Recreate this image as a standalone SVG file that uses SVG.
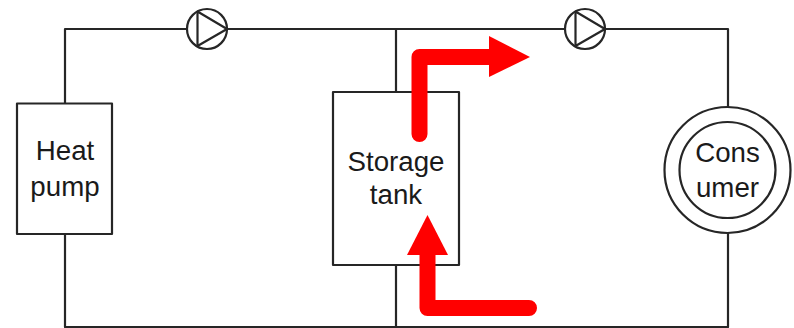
<svg xmlns="http://www.w3.org/2000/svg" width="794" height="328" viewBox="0 0 794 328">
<style>
.l{fill:none;stroke:#262626;stroke-width:2.200;stroke-linejoin:round}
.n{fill:#fff;stroke:#262626;stroke-width:2.200;stroke-linejoin:round}
.t{font-family:"Liberation Sans",Arial,sans-serif;font-size:27.700px;fill:#1a1a1a;text-anchor:middle}
.r{fill:none;stroke:#f00;stroke-width:16;stroke-linecap:round;stroke-linejoin:round}
</style>
<rect width="794" height="328" fill="#fff"/>
<g id="connectors">
<path class="l" d="M65 103.500V29H728V107M396 29V92M396 265V327M65 234V327H728V233"/>
</g>
<g id="heat-pump"><rect class="n" x="17" y="103.500" width="95" height="130.500"/><text class="t" x="65" y="160">Heat</text><text class="t" x="65" y="196">pump</text></g>
<g id="storage-tank"><rect class="n" x="333" y="92" width="126" height="173"/><text class="t" x="396" y="171">Storage</text><text class="t" x="396" y="204">tank</text></g>
<g id="consumer"><circle class="n" cx="727.500" cy="170" r="63"/><circle class="n" cx="727.500" cy="170" r="48"/><text class="t" x="727.500" y="162">Cons</text><text class="t" x="727.500" y="197">umer</text></g>
<g id="pump-1"><circle class="n" cx="207" cy="29" r="20"/><path class="l" d="M197.500 11.500V46L227 29Z"/></g>
<g id="pump-2"><circle class="n" cx="585" cy="29" r="20"/><path class="l" d="M575.500 11.500V46L605 29Z"/></g>
<g id="flows">
<path class="r" d="M419.500 134V57H495"/><path d="M489 36L530 57L489 77Z" fill="#f00"/>
<path class="r" d="M427.500 250V308H529"/><path d="M427.500 215L448 255H407Z" fill="#f00"/>
</g>
</svg>
